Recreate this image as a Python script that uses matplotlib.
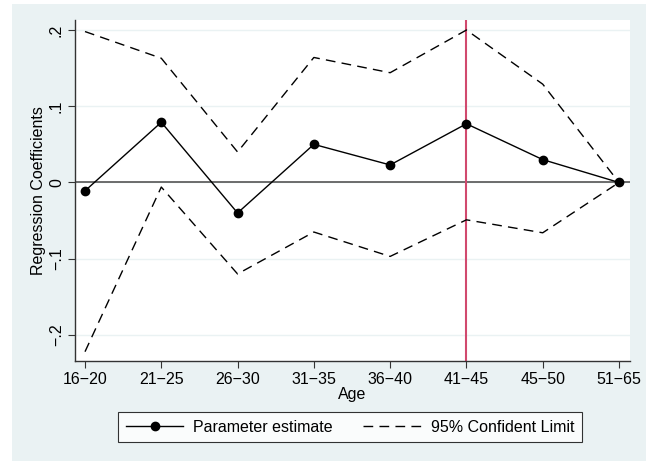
import numpy as np
import matplotlib
matplotlib.use("Agg")
import matplotlib.pyplot as plt
from matplotlib.patches import Rectangle
from matplotlib.lines import Line2D

plt.rcParams["font.family"] = ["Liberation Sans", "DejaVu Sans"]

ages = ["16\u221220", "21\u221225", "26\u221230", "31\u221235", "36\u221240", "41\u221245", "45\u221250", "51\u221265"]
estimate = [-0.011, 0.079, -0.040, 0.050, 0.023, 0.077, 0.030, 0.0]
upper = [0.198, 0.163, 0.040, 0.164, 0.144, 0.200, 0.129, 0.0]
lower = [-0.222, -0.006, -0.120, -0.065, -0.097, -0.049, -0.066, 0.0]
yticks = [-0.2, -0.1, 0.0, 0.1, 0.2]
ytick_labels = ["\u2212.2", "\u2212.1", "0", ".1", ".2"]
mark_age = 6

bg = "#EAF2F3"
fs = 11.5
W, H = 657, 461
fig = plt.figure(figsize=(W / 100, H / 100), dpi=100, facecolor="white")
fig.patches.append(Rectangle((12 / W, 0), (646 - 12) / W, 1 - 4 / H,
                             transform=fig.transFigure, facecolor=bg,
                             edgecolor="none", zorder=-10))

ax = fig.add_axes([75 / W, 1 - 361 / H, (630 - 75) / W, (361 - 20) / H])
ax.set_facecolor("white")
x = np.arange(1, len(ages) + 1)

for yv in yticks:
    ax.axhline(yv, color=bg, lw=1.0, zorder=0)
ax.axhline(0, color="#555555", lw=1.2, zorder=1)
ax.axvline(mark_age, color="#D1496E", lw=1.5, zorder=2)

dash = (0, (7, 4.5))
ax.plot(x, upper, color="black", lw=1.0, ls=dash, zorder=3)
ax.plot(x, lower, color="black", lw=1.0, ls=dash, zorder=3)
ax.plot(x, estimate, color="black", lw=1.0, marker="o", ms=6, zorder=4)

ax.set_xlim(1 - 10 / 76.3, 8 + 11 / 76.3)
ax.set_ylim(-0.2 - 26 / 760, 0.2 + 10 / 760)
ax.set_xticks(x)
ax.set_xticklabels(ages, fontsize=fs)
ax.set_yticks(yticks)
ax.set_yticklabels(ytick_labels, fontsize=fs, rotation=90, va="center")
ax.tick_params(direction="out", length=5, width=0.8, color="#333333", pad=3)
for side in ["top", "right"]:
    ax.spines[side].set_visible(False)
for side in ["left", "bottom"]:
    ax.spines[side].set_color("#333333")
    ax.spines[side].set_linewidth(1.0)

ax.set_xlabel("Age", fontsize=fs, labelpad=0)
ax.set_ylabel("Regression Coefficients", fontsize=fs, labelpad=2)

handles = [Line2D([], [], color="black", lw=1.0, marker="o", ms=6),
           Line2D([], [], color="black", lw=1.0, ls=dash)]
leg = fig.legend(handles, ["Parameter estimate", "95% Confident Limit"],
                 loc="center", bbox_to_anchor=(350 / W, 1 - 427 / H), ncol=2,
                 fontsize=fs, frameon=True, fancybox=False, handlelength=3.6,
                 columnspacing=1.9, borderpad=0.5, handletextpad=0.62)
leg.get_frame().set_edgecolor("black")
leg.get_frame().set_linewidth(0.8)

fig.savefig("out.png", dpi=100, facecolor=fig.get_facecolor())
